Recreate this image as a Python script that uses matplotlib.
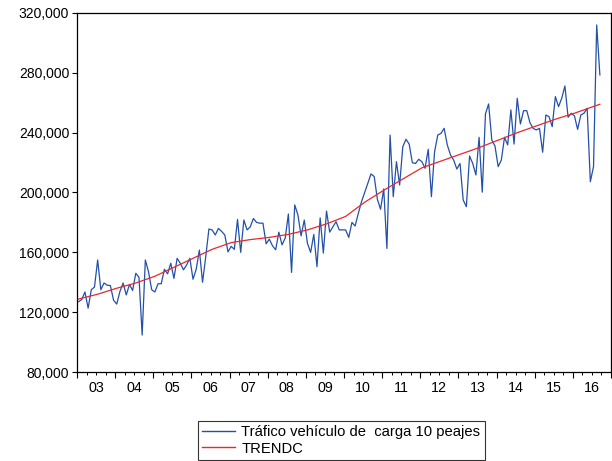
import matplotlib
matplotlib.use("Agg")
import matplotlib.pyplot as plt
from matplotlib.ticker import FuncFormatter, FixedLocator

plt.rcParams["font.family"] = ["Liberation Sans", "DejaVu Sans"]

# monthly traffic, 2003M01 .. 2016M09
traffic = [
    127000, 128500, 133500, 122700, 135000, 136800, 154900, 135000, 139500, 138000, 137800, 128000,  # 2003
    125400, 133800, 139500, 131500, 138500, 134500, 146000, 143300, 104700, 154900, 147000, 135000,  # 2004
    133500, 139000, 139000, 148700, 145600, 152700, 142600, 156000, 152700, 148300, 151600, 156000,  # 2005
    142000, 148700, 161500, 140000, 157000, 175600, 175000, 171600, 176000, 174000, 171600, 160300,  # 2006
    164000, 162000, 182000, 160000, 181600, 175000, 177000, 182600, 180000, 179500, 179500, 165700,  # 2007
    168800, 164400, 161700, 173500, 165000, 169500, 185600, 146600, 191700, 185000, 171000, 181600,  # 2008
    166000, 160000, 172000, 150400, 183000, 159500, 187600, 173500, 177000, 180500, 175000, 175000,  # 2009
    175000, 170000, 180000, 177600, 186000, 193800, 199900, 206200, 212400, 210700, 195500, 188800,  # 2010
    202400, 162600, 238400, 197200, 220600, 205000, 230600, 235600, 232400, 219900, 219400, 222200,  # 2011
    220600, 216200, 228900, 197200, 227300, 238400, 239500, 242900, 231800, 225100, 221700, 215700,  # 2012
    219400, 195000, 190500, 224400, 219400, 211700, 236900, 200200, 252500, 259200, 235100, 231100,  # 2013
    217300, 221700, 236900, 231800, 255200, 232400, 263000, 245800, 254700, 254700, 246700, 242900,  # 2014
    241800, 242900, 226900, 251800, 250700, 244000, 264100, 257400, 263000, 271200, 250300, 253000,  # 2015
    251200, 242200, 251800, 253000, 256300, 207200, 217300, 312000, 278600,                          # 2016
]

# smooth trend, read every six months (month index from 2003M01)
trend_month = [0, 6, 12, 18, 24, 30, 36, 42, 48, 54, 60, 66, 72, 78, 84, 90, 96,
               102, 108, 114, 120, 126, 132, 138, 144, 150, 156, 164]
trend = [128800, 132000, 136000, 139500, 144000, 150000, 156000, 162000, 166500,
         168500, 170000, 172000, 175000, 179000, 184000, 193500, 201500, 209000,
         216500, 221000, 225500, 230000, 235000, 240000, 244500, 249000, 253000, 259000]

years = ["03", "04", "05", "06", "07", "08", "09", "10", "11", "12", "13", "14", "15", "16"]
y_ticks = [80000, 120000, 160000, 200000, 240000, 280000, 320000]

fig = plt.figure(figsize=(6.12, 4.61), dpi=100)
ax = fig.add_axes([77 / 612, 1 - 372 / 461, 534 / 612, 359 / 461])

months = list(range(len(traffic)))
l1, = ax.plot(months, traffic, color="#2350a8", lw=0.9)
l2, = ax.plot(trend_month, trend, color="#e8282c", lw=0.9)

ax.set_xlim(-0.5, 12 * len(years) - 0.5)
ax.set_ylim(y_ticks[0], y_ticks[-1])
ax.set_yticks(y_ticks)
ax.yaxis.set_major_formatter(FuncFormatter(lambda v, p: f"{int(v):,}"))

major = [12 * k - 0.5 for k in range(len(years) + 1)]
minor = [12 * k + q - 0.5 for k in range(len(years)) for q in (3, 6, 9)]
ax.xaxis.set_major_locator(FixedLocator(major))
ax.xaxis.set_minor_locator(FixedLocator(minor))
ax.set_xticklabels([])
ax.tick_params(axis="x", which="major", direction="out", length=4.5, width=0.8, color="black")
ax.tick_params(axis="x", which="minor", direction="out", length=2.3, width=0.7, color="black")
ax.tick_params(axis="y", direction="out", length=3.6, width=0.8, labelsize=10, pad=2)

for k, yr in enumerate(years):
    ax.text(12 * k + 5.5, -0.024, yr, transform=ax.get_xaxis_transform(),
            ha="center", va="top", fontsize=10.3)

for s in ax.spines.values():
    s.set_linewidth(0.9)
    s.set_color("black")

leg = fig.legend([l1, l2], ["Tráfico vehículo de  carga 10 peajes", "TRENDC"],
                 loc="lower left", bbox_to_anchor=(198 / 612, 1 / 461),
                 fontsize=10.6, frameon=True, fancybox=False, handlelength=2.2,
                 labelspacing=0.15, borderpad=0.3, handletextpad=0.45,
                 borderaxespad=0)
leg.get_frame().set_edgecolor("black")
leg.get_frame().set_linewidth(0.8)
for h in leg.get_lines():
    h.set_linewidth(1.0)

fig.savefig("out.png", dpi=100)
